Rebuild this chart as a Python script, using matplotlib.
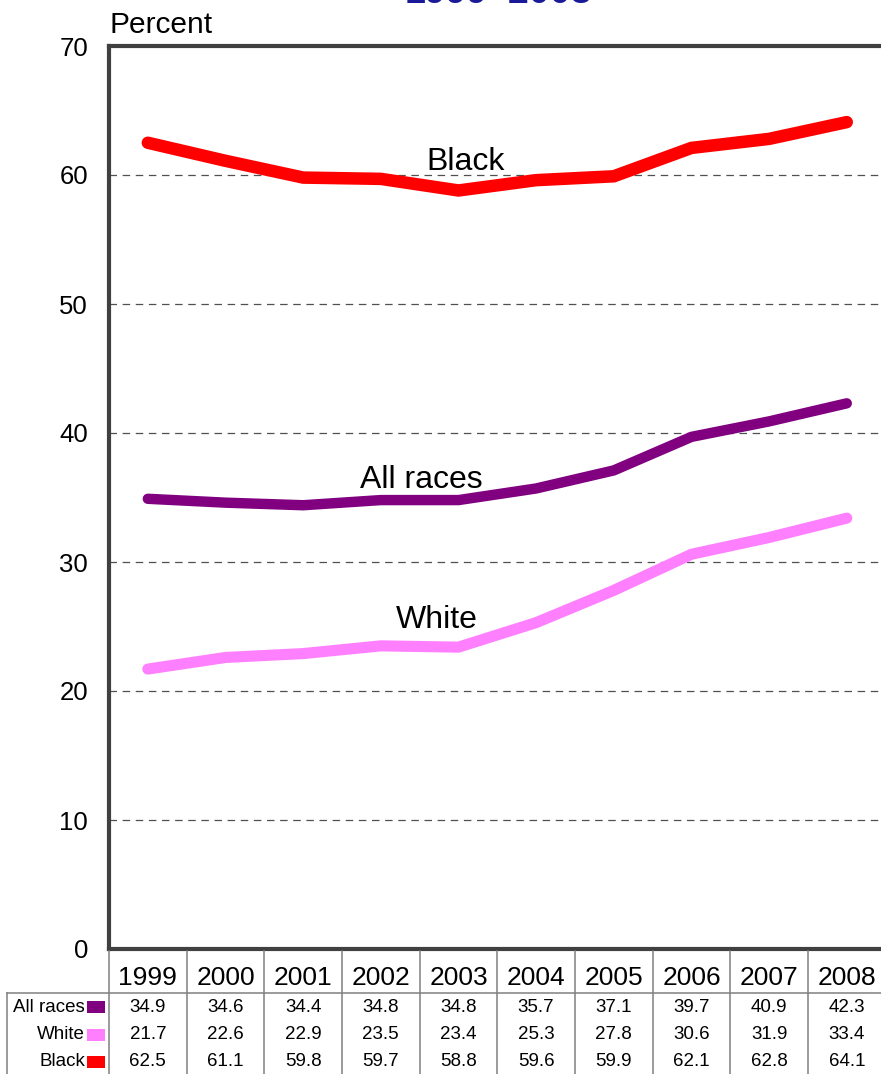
import numpy as np
import matplotlib
matplotlib.use("Agg")
import matplotlib.pyplot as plt
import matplotlib.transforms as mtransforms
from matplotlib.lines import Line2D
from matplotlib.patches import Rectangle

plt.rcParams['font.family'] = ['Liberation Sans', 'DejaVu Sans']

years = ['1999', '2000', '2001', '2002', '2003', '2004', '2005', '2006', '2007', '2008']
all_races = [34.9, 34.6, 34.4, 34.8, 34.8, 35.7, 37.1, 39.7, 40.9, 42.3]
white = [21.7, 22.6, 22.9, 23.5, 23.4, 25.3, 27.8, 30.6, 31.9, 33.4]
black = [62.5, 61.1, 59.8, 59.7, 58.8, 59.6, 59.9, 62.1, 62.8, 64.1]

series_names = ['All races', 'White', 'Black']
series_values = [all_races, white, black]
series_colors = ['#800080', '#FF80FF', '#FF0000']
series_widths = [7.5, 8, 9]

W, H = 881, 1074
fig = plt.figure(figsize=(W / 100, H / 100), dpi=100)
ax = fig.add_axes([109 / W, 1 - 949 / H, (885.6 - 109) / W, (949 - 46) / H])

x = np.arange(len(years))
for vals, col, lw in zip(series_values, series_colors, series_widths):
    ax.plot(x, vals, color=col, lw=lw, solid_capstyle='round', solid_joinstyle='miter', zorder=3)

ax.set_xlim(-0.5, len(years) - 0.5)
ax.set_ylim(0, 70)
ax.set_yticks(np.arange(0, 71, 10))
ax.tick_params(axis='y', length=0, pad=15, labelsize=18.5)
ax.set_xticks([])
for y in range(10, 70, 10):
    ax.axhline(y, color='#505050', lw=0.9, ls=(0, (6, 4.5)), zorder=1, clip_on=False)

for side in ['left', 'top', 'bottom']:
    ax.spines[side].set_color('#404040')
    ax.spines[side].set_linewidth(3)
ax.spines['right'].set_visible(False)

# labels on the lines
ax.text(4.085, 60.4, 'Black', fontsize=23, ha='center', va='baseline', zorder=4)
ax.text(3.52, 35.7, 'All races', fontsize=23, ha='center', va='baseline', zorder=4)
ax.text(3.72, 24.9, 'White', fontsize=23, ha='center', va='baseline', zorder=4)

fig.text(110 / W, 1 - 33 / H, 'Percent', fontsize=21.5, ha='left', va='baseline')
# title is cut by the top edge, only the bottom of the digits shows
title = fig.text(498 / W, 1 - 3 / H, '1999\u20132008', fontsize=27, fontweight='bold',
                 color='#1a1a99', ha='center', va='baseline')
title.set_clip_box(mtransforms.TransformedBbox(
    mtransforms.Bbox([[0, 1 - 3.5 / H], [1, 1]]), fig.transFigure))
title.set_clip_on(True)

# data table under the axis
tr = mtransforms.blended_transform_factory(ax.transData, fig.transFigure)
grid_col = '#808080'
for k in range(len(years) + 1):
    fig.add_artist(Line2D([k - 0.5, k - 0.5], [1 - 951 / H, 0], transform=tr,
                          color=grid_col, lw=1.1))
fig.add_artist(Line2D([7 / W, 1], [1 - 993 / H, 1 - 993 / H], transform=fig.transFigure,
                      color=grid_col, lw=1.1))
fig.add_artist(Line2D([7 / W, 7 / W], [1 - 993 / H, 0], transform=fig.transFigure,
                      color=grid_col, lw=1.1))

for i, yr in enumerate(years):
    fig.text(i, 1 - 978 / H, yr, transform=tr, fontsize=19, ha='center', va='center')

row_y = [1007, 1034.5, 1062]
for name, vals, col, py in zip(series_names, series_values, series_colors, row_y):
    fig.text(85 / W, 1 - py / H, name, fontsize=13.5, ha='right', va='center')
    fig.add_artist(Rectangle((87 / W, 1 - (py + 6) / H), 18 / W, 12 / H,
                             transform=fig.transFigure, color=col, lw=0))
    for i, v in enumerate(vals):
        fig.text(i, 1 - py / H, f'{v:.1f}', transform=tr, fontsize=13.5, ha='center', va='center')

fig.savefig('out.png', dpi=100)
